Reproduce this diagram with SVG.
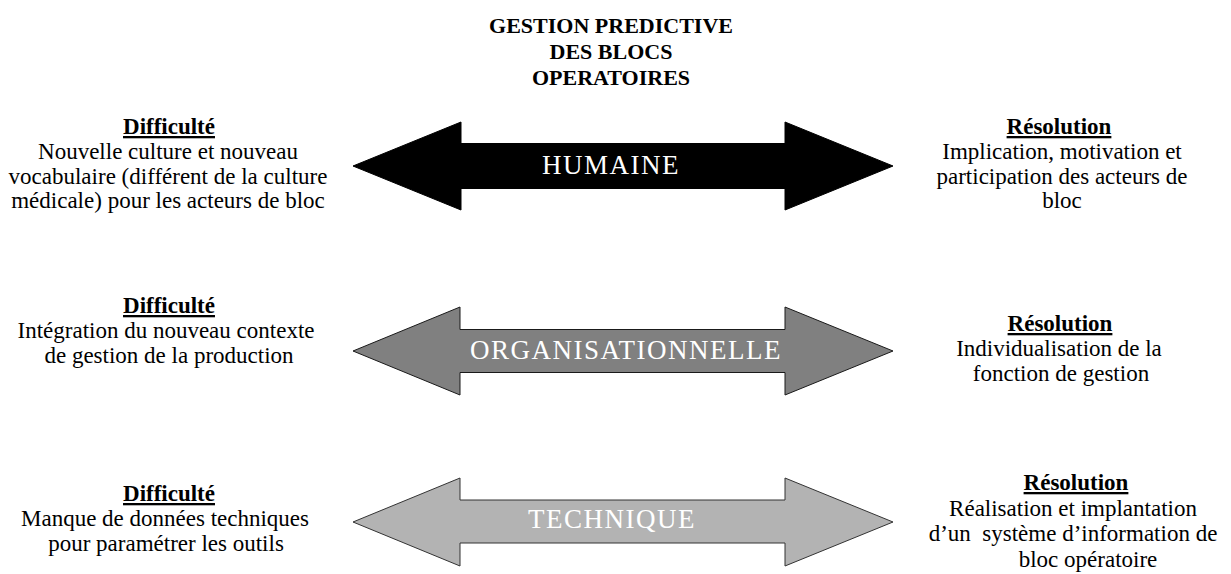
<svg xmlns="http://www.w3.org/2000/svg" width="1231" height="574" viewBox="0 0 1231 574">
<style>
text{font-family:"Liberation Serif","Times New Roman",serif;text-anchor:middle;fill:#000}
.title{font-size:22px;font-weight:bold}
.head{font-size:23px;font-weight:bold;text-decoration:underline}
.body{font-size:23px}
.pre{white-space:pre}
.lbl{font-size:27px;fill:#fff;letter-spacing:1.5px}
.a1{fill:#000;stroke:#000;stroke-width:1}
.a2{fill:#808080;stroke:#1a1a1a;stroke-width:1}
.a3{fill:#b3b3b3;stroke:#333;stroke-width:1}
</style>
<rect width="1231" height="574" fill="#fff"/>
<g id="title">
<text class="title" x="611" y="33">GESTION PREDICTIVE</text>
<text class="title" x="611" y="59">DES BLOCS</text>
<text class="title" x="611" y="85">OPERATOIRES</text>
</g>
<g id="connectors">
<g id="arrow-humaine">
<path class="a1" d="M353,166 L461,122 L461,143.5 L785,143.5 L785,122 L893,166 L785,210 L785,188.5 L461,188.5 L461,210 Z"/>
<text class="lbl" x="611" y="174">HUMAINE</text>
</g>
<g id="arrow-organisationnelle">
<path class="a2" d="M353,351 L460,307 L460,329.5 L785,329.5 L785,307 L893,351 L785,395 L785,372.5 L460,372.5 L460,395 Z"/>
<text class="lbl" x="626" y="359">ORGANISATIONNELLE</text>
</g>
<g id="arrow-technique">
<path class="a3" d="M353,522 L460,478 L460,500 L785,500 L785,478 L893,522 L785,566 L785,543 L460,543 L460,566 Z"/>
<text class="lbl" x="612" y="528">TECHNIQUE</text>
</g>
</g>
<g id="diff-humaine">
<text class="head" x="169" y="134">Difficulté</text>
<text class="body" x="168" y="159">Nouvelle culture et nouveau</text>
<text class="body" x="168" y="183.5">vocabulaire (différent de la culture</text>
<text class="body" x="168" y="208">médicale) pour les acteurs de bloc</text>
</g>
<g id="res-humaine">
<text class="head" x="1059" y="134">Résolution</text>
<text class="body" x="1062" y="159">Implication, motivation et</text>
<text class="body" x="1062" y="183.5">participation des acteurs de</text>
<text class="body" x="1062" y="208">bloc</text>
</g>
<g id="diff-organisationnelle">
<text class="head" x="169" y="313">Difficulté</text>
<text class="body" x="166" y="338">Intégration du nouveau contexte</text>
<text class="body" x="169" y="362.5">de gestion de la production</text>
</g>
<g id="res-organisationnelle">
<text class="head" x="1060" y="331">Résolution</text>
<text class="body" x="1059" y="356">Individualisation de la</text>
<text class="body" x="1061" y="380.5">fonction de gestion</text>
</g>
<g id="diff-technique">
<text class="head" x="169" y="501">Difficulté</text>
<text class="body" x="165" y="526">Manque de données techniques</text>
<text class="body" x="166" y="550.5">pour paramétrer les outils</text>
</g>
<g id="res-technique">
<text class="head" x="1076" y="490">Résolution</text>
<text class="body" x="1073" y="515.5">Réalisation et implantation</text>
<text class="body pre" x="1073" y="541">d’un  système d’information de</text>
<text class="body" x="1088" y="566.5">bloc opératoire</text>
</g>
</svg>
